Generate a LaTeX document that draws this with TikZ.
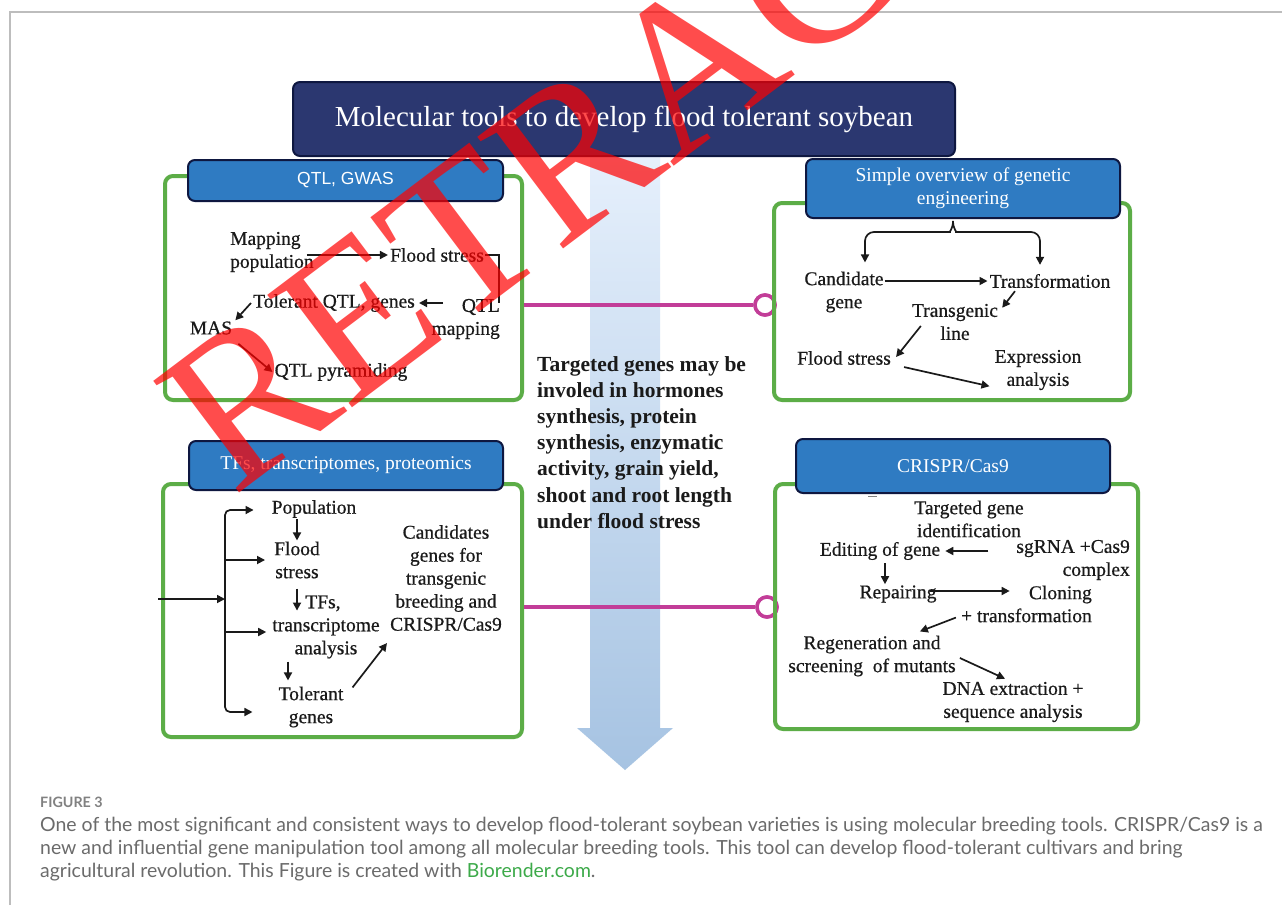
\documentclass[tikz,border=0pt]{standalone}
\usepackage{fontspec}
\setmainfont{Liberation Serif}
\newfontfamily\lblfont{Liberation Serif}[FakeBold=0.6]
\newfontfamily\hdrsans{Liberation Sans}
\newfontfamily\capfont{Lato}
\newfontfamily\wmfont{Liberation Serif}
\usetikzlibrary{arrows.meta,calc}
\definecolor{navy}{HTML}{2B3770}
\definecolor{navyedge}{HTML}{0E1740}
\definecolor{hdrblue}{HTML}{2F7BC2}
\definecolor{boxgreen}{HTML}{5CAD47}
\definecolor{linkpink}{HTML}{C23D98}
\definecolor{ink}{HTML}{1A1A1A}
\definecolor{framegray}{HTML}{BDBDBD}
\definecolor{capgray}{HTML}{6B6B6B}
\definecolor{brgreen}{HTML}{3DAA4A}
\definecolor{shaftlight}{HTML}{E6F0FC}
\definecolor{shaftdark}{HTML}{A6C3E2}
\tikzset{
  greenbox/.style={draw=boxgreen, line width=4pt, rounded corners=8pt, inner sep=0pt},
  hdr/.style={fill=hdrblue, draw=navyedge, line width=2pt, rounded corners=7pt, text=white, align=center, inner sep=0pt},
  lbl/.style={text=ink, font=\lblfont\fontsize{19.5}{23}\selectfont, align=center, inner sep=1pt},
  arr/.style={draw=ink, line width=1.7pt, -{Triangle[length=8pt,width=8pt]}},
  ln/.style={draw=ink, line width=1.7pt},
  link/.style={draw=linkpink, line width=4pt},
  linkend/.style={draw=linkpink, line width=3.5pt, fill=white, circle, minimum size=20pt, inner sep=0pt},
  capline/.style={font=\capfont\fontsize{19.45}{23}\selectfont, text=capgray, anchor=base west, inner sep=0pt},
}
\begin{document}
\begin{tikzpicture}[x=1pt,y=-1pt]
\useasboundingbox (0,0) rectangle (1282,905);
\fill[white] (0,0) rectangle (1282,905);
% frame
\draw[framegray, line width=1.3pt] (10,905) -- (10,12) -- (1282,12);

% central arrow
\shade[top color=shaftlight, bottom color=shaftdark] (590,150) -- (660,150) -- (660,728) -- (673,728) -- (625,770) -- (577,728) -- (590,728) -- cycle;

% title
\node[hdr, fill=navy, minimum width=662pt, minimum height=74pt, font=\fontsize{29}{32}\selectfont] (title) at (624,119) {Molecular tools to develop flood tolerant soybean};

% pink links
\node[linkend] (c1) at (765,305) {};
\node[linkend] (c2) at (767,607) {};

% green boxes
\node[greenbox, minimum width=357pt, minimum height=224pt] (qtlbox) at (343.5,288) {};
\node[greenbox, minimum width=356pt, minimum height=197pt] (gebox) at (952,301.5) {};
\node[greenbox, minimum width=359pt, minimum height=253pt] (tfbox) at (342.5,610.5) {};
\node[greenbox, minimum width=363pt, minimum height=245pt] (crbox) at (956.5,606.5) {};

\draw[link] (qtlbox.east |- c1) -- (c1.west);
\draw[link] (tfbox.east |- c2) -- (c2.west);
\node[linkend] at (c1) {};
\node[linkend] at (c2) {};
\draw[draw=boxgreen, line width=4pt] (774,280) -- (774,330);
\draw[draw=boxgreen, line width=4pt] (775,580) -- (775,630);

% headers
\node[hdr, minimum width=315pt, minimum height=41pt, font=\hdrsans\fontsize{17.5}{20}\selectfont] (qtlhdr) at (345.5,180.5) {QTL, GWAS};
\node[hdr, minimum width=314pt, minimum height=59pt, font=\fontsize{19.5}{23}\selectfont] (gehdr) at (963,188.5) {Simple overview of genetic\\engineering};
\node[hdr, minimum width=314pt, minimum height=49pt, font=\fontsize{19.5}{23}\selectfont] (tfhdr) at (346,465.5) {TFs, transcriptomes, proteomics};
\node[hdr, minimum width=314pt, minimum height=54pt, font=\fontsize{19.5}{23}\selectfont] (crhdr) at (953,466) {CRISPR/Cas9};

% ---- QTL box
\node[lbl, align=left, anchor=west] (mp) at (229,252) {Mapping\\population};
\node[lbl] (fs1) at (437,255) {Flood stress};
\node[lbl, align=right, anchor=east] (qm) at (501,319) {QTL\\mapping};
\node[lbl] (tq) at (334,303) {Tolerant QTL, genes};
\node[lbl] (mas) at (211,328) {MAS};
\node[lbl] (qp) at (341,372) {QTL pyramiding};
\draw[arr] ($(mp.east |- fs1.west)+(-8,0)$) -- ($(fs1.west)+(-1,0)$);
\draw[ln] (fs1.east) -- ++(14,0) coordinate (br) -- ($(br |- qm.north)+(0,5)$);
\draw[arr] ($(tq.east)+(27,0)$) -- ($(tq.east)+(3,0)$);
\draw[arr] ($(tq.west)+(-1,0)$) -- ($(mas.north east)+(2,0)$);
\draw[arr] ($(mas.south east)+(5,8)$) -- ($(qp.west)+(-1,0)$);

% ---- genetic engineering box
\node[lbl] (cand) at (844,292) {Candidate\\gene};
\node[lbl] (trf) at (1050,281) {Transformation};
\node[lbl] (tgl) at (955,322) {Transgenic\\line};
\node[lbl] (fs2) at (844,358) {Flood stress};
\node[lbl] (exa) at (1038,370) {Expression\\analysis};
\coordinate (brtip) at ($(gehdr.south)+(-10,2)$);
\draw[arr, rounded corners=9pt] (brtip) .. controls ($(brtip)+(0,8)$) and ($(brtip)+(-4,11)$) .. ($(brtip)+(-12,11)$) -| ($(cand.north)+(21,-8)$);
\draw[arr, rounded corners=9pt] (brtip) .. controls ($(brtip)+(0,8)$) and ($(brtip)+(4,11)$) .. ($(brtip)+(12,11)$) -| ($(trf.north)+(-10,-8)$);
\draw[arr] (cand.east |- trf.west) -- ($(trf.west)+(-1,0)$);
\draw[arr] ($(trf.south)+(-35,2)$) -- ($(tgl.north east)+(3,5)$);
\draw[arr] ($(tgl.west)+(10,4)$) -- ($(fs2.east)+(4,-1)$);
\draw[arr] ($(fs2.south east)+(12,1)$) -- ($(exa.south west)+(-4,-5)$);

% ---- TFs box
\node[lbl] (pop) at (314,509) {Population};
\node[lbl] (fls) at (297,560) {Flood\\stress};
\node[lbl] (tfs) at (326,627) {\hspace*{-6pt}TFs,\\transcriptome\\analysis};
\node[lbl] (tol) at (311,707) {Tolerant\\genes};
\node[lbl] (cand2) at (446,578) {Candidates\\genes for\\transgenic\\breeding and\\CRISPR/Cas9};
\coordinate (tfin) at (158,599);
\coordinate (bx) at (225,599);
\draw[arr] (tfin) -- (bx);
\draw[arr, rounded corners=5pt] (bx) |- ($(pop.west)+(-17,1)$);
\draw[arr] (bx |- fls.west) -- ($(fls.west)+(-8,0)$);
\draw[arr] ($(bx |- tfs.west)+(0,5)$) -- ($(tfs.west)+(-5,5)$);
\draw[arr, rounded corners=5pt] (bx) |- ($(tol.west)+(-25,5)$);
\draw[arr] (fls.north |- pop.south) -- (fls.north);
\draw[arr] ($(fls.south)+(0,9)$) -- ++(0,22);
\draw[arr] ($(tfs.south)+(-38,2)$) -- ($(tol.north)+(-23,-5)$);
\draw[arr] ($(tol.north east)+(8,2)$) -- ($(cand2.south west)+(-2,11)$);

% ---- CRISPR box
\node[lbl] (tg) at (969,519) {Targeted gene\\identification};
\node[lbl, align=right, anchor=east] (sg) at (1131,560) {sgRNA +Cas9\\complex};
\node[lbl] (ed) at (880,551) {Editing of gene};
\node[lbl] (rp) at (898,594) {Repairing};
\node[lbl, align=right, anchor=east] (cl) at (1093,604) {Cloning\\+ transformation};
\node[lbl] (rg) at (872,656) {Regeneration and\\screening\ \ of mutants};
\node[lbl] (dna) at (1013,702) {DNA extraction +\\sequence analysis};
\draw[draw=gray, line width=1pt] ($(tg.north west)+(-45,-3)$) -- ++(9,0);
\draw[arr] ($(ed.east)+(47,0)$) -- ($(ed.east)+(4,0)$);
\draw[arr] ($(ed.south)+(5,2)$) -- ++(0,21);
\draw[arr] ($(rp.east)+(-8,-3)$) -- ++(80,0);
\draw[arr] ($(cl.south west)+(-4,-6)$) -- ($(rg.north east)+(-37,-3)$);
\draw[arr] ($(rg.east)+(3,2)$) -- ($(dna.north)+(-8,-2)$);

% central text
\node[text=ink, font=\bfseries\fontsize{21.5}{26.2}\selectfont, align=left, anchor=north west, inner sep=0pt] (mid) at (537,356) {Targeted genes may be\\involed in hormones\\synthesis, protein\\synthesis, enzymatic\\activity, grain yield,\\shoot and root length\\under flood stress};

% caption
\node[font=\capfont\bfseries\fontsize{14.3}{16}\selectfont, text=capgray!85, anchor=base west, inner sep=0pt] (fig) at (40,807) {FIGURE 3};
\node[capline] (cap1) at (40,831) {One of the most significant and consistent ways to develop flood-tolerant soybean varieties is using molecular breeding tools. CRISPR/Cas9 is a};
\node[capline] (cap2) at (40,854) {new and influential gene manipulation tool among all molecular breeding tools. This tool can develop flood-tolerant cultivars and bring};
\node[capline] (cap3) at (40,877) {agricultural revolution. This Figure is created with \textcolor{brgreen}{Biorender.com}.};

% watermark
\node[font=\wmfont\fontsize{215}{215}\selectfont, text=red, text opacity=0.7, rotate=37, anchor=base west, inner sep=0pt] (wm) at (233,498) {RETRACTED};
\end{tikzpicture}
\end{document}
